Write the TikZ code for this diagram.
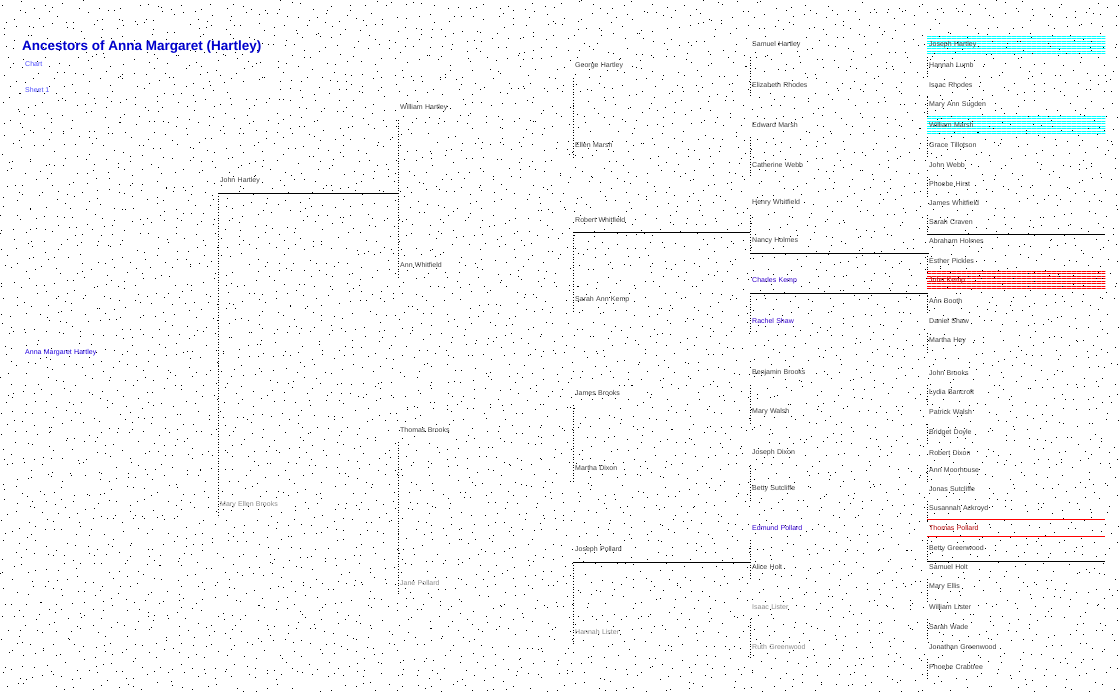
\documentclass[tikz,border=0pt]{standalone}
\usepackage{fontspec}
\setmainfont{Liberation Sans}
\usetikzlibrary{patterns.meta,backgrounds}

\begin{document}
\begin{tikzpicture}[x=1pt,y=-1pt,
  person/.style={anchor=west, inner xsep=2pt, inner ysep=0pt, minimum height=24pt, text width=#1, font=\fontsize{7}{8}\selectfont, text=black!75},
  person/.default=170pt,
  conn/.style={dotted, line width=0.7pt},
  bar/.style={line width=0.9pt},
  hlcyan/.style={pattern={Lines[angle=0,distance=2.5pt,line width=0.9pt]}, pattern color=cyan},
  hlred/.style={pattern={Lines[angle=0,distance=2.5pt,line width=0.9pt]}, pattern color=red}
]
\useasboundingbox (0,0) rectangle (1119,691);
\pgfmathsetseed{7}
\foreach \gx in {0,10,...,1110}
  \foreach \gy in {0,11,...,682}
    \fill ({\gx+rnd*10},{\gy+rnd*11}) rectangle +(1,1);

\node[anchor=west, inner sep=0, font=\fontsize{13.5}{15}\selectfont\bfseries, text=blue!80!black] (title) at (22,47) {Ancestors of Anna Margaret (Hartley)};
\node[anchor=west, inner sep=0, font=\fontsize{7}{8}\selectfont, text=blue!70] (chart) at (25,64) {Chart};
\node[anchor=west, inner sep=0, font=\fontsize{7}{8}\selectfont, text=blue!70] (sheet) at (25,90) {Sheet 1};

\node[person, text=blue!75!violet] (root) at (23,353) {Anna Margaret Hartley};

\node[person=176pt] (b1) at (218,181) {John Hartley};
\node[person=176pt, text=black!45] (b2) at (218,505) {Mary Ellen Brooks};

\node[person=171pt] (c1) at (398,108) {William Hartley};
\node[person=171pt] (c2) at (398,265) {Ann Whitfield};
\node[person=171pt] (c3) at (398,430) {Thomas Brooks};
\node[person=171pt, text=black!45] (c4) at (398,583) {Jane Pollard};

\node[person=173pt] (d1) at (573,66) {George Hartley};
\node[person=173pt] (d2) at (573,145) {Ellen Marsh};
\node[person=173pt] (d3) at (573,220) {Robert Whitfield};
\node[person=173pt] (d4) at (573,300) {Sarah Ann Kemp};
\node[person=173pt] (d5) at (573,393) {James Brooks};
\node[person=173pt] (d6) at (573,468) {Martha Dixon};
\node[person=173pt] (d7) at (573,550) {Joseph Pollard};
\node[person=173pt, text=black!45] (d8) at (573,632) {Hannah Lister};

\foreach \y/\c/\n [count=\i] in {
  45/black!75/Samuel Hartley, 85/black!75/Elizabeth Rhodes,
  125/black!75/Edward Marsh, 165/black!75/Catherine Webb,
  203/black!75/Henry Whitfield, 241/black!75/Nancy Holmes,
  281/blue!60!violet/Charles Kemp, 321/blue!60!violet/Rachel Shaw,
  373/black!75/Benjamin Brooks, 412/black!75/Mary Walsh,
  453/black!75/Joseph Dixon, 489/black!75/Betty Sutcliffe,
  528/blue!60!violet/Edmund Pollard, 567/black!75/Alice Holt,
  607/black!45/Isaac Lister, 647/black!45/Ruth Greenwood}
  \node[person=173pt, text=\c] (e\i) at (750,\y) {\n};

\foreach \y/\c/\n [count=\i] in {
  45/black!75/Joseph Hartley, 65/black!75/Hannah Lumb,
  85/black!75/Isaac Rhodes, 105/black!75/Mary Ann Sugden,
  125/black!75/William Marsh, 145/black!75/Grace Tillotson,
  165/black!75/John Webb, 184/black!75/Phoebe Hirst,
  203/black!75/James Whitfield, 222/black!75/Sarah Craven,
  241/black!75/Abraham Holmes, 261/black!75/Esther Pickles,
  281/red!70!black/John Kemp, 301/black!75/Ann Booth,
  321/black!75/Daniel Shaw, 341/black!75/Martha Hey,
  373/black!75/John Brooks, 393/black!75/Lydia Bancroft,
  412/black!75/Patrick Walsh, 433/black!75/Bridget Doyle,
  453/black!75/Robert Dixon, 470/black!75/Ann Moorhouse,
  489/black!75/Jonas Sutcliffe, 509/black!75/Susannah Ackroyd,
  528/red!70!black/Thomas Pollard, 549/black!75/Betty Greenwood,
  567/black!75/Samuel Holt, 587/black!75/Mary Ellis,
  607/black!75/William Lister, 627/black!75/Sarah Wade,
  647/black!75/Jonathan Greenwood, 667/black!75/Phoebe Crabtree}
  \node[person=174pt, text=\c] (g\i) at (927,\y) {\n};

\begin{pgfonlayer}{background}
\fill[hlcyan] ([yshift=3pt]g1.south west) rectangle ([yshift=-3pt]g1.north east);
\fill[hlcyan] ([yshift=3pt]g5.south west) rectangle ([yshift=-3pt]g5.north east);
\fill[hlred] ([yshift=3pt]g13.south west) rectangle ([yshift=-3pt]g13.north east);
\end{pgfonlayer}
\draw[red, line width=0.8pt] ([yshift=-4pt]g25.north west) -- ([yshift=-4pt]g25.north east);
\draw[red, line width=0.8pt] ([yshift=4pt]g25.south west) -- ([yshift=4pt]g25.south east);

\draw[conn] (b1.south west) -- (b2.south west);
\draw[conn] (c1.south west) -- (c2.south west);
\draw[conn] (c3.south west) -- (c4.south west);
\draw[conn] (d1.south west) -- (d2.south west);
\draw[conn] (d3.south west) -- (d4.south west);
\draw[conn] (d5.south west) -- (d6.south west);
\draw[conn] (d7.south west) -- (d8.south west);
\foreach \i in {1,3,...,15} {
  \pgfmathtruncatemacro\j{\i+1}
  \draw[conn] (e\i.south west) -- (e\j.south west);
}
\foreach \i in {1,3,...,31} {
  \pgfmathtruncatemacro\j{\i+1}
  \draw[conn] (g\i.south west) -- (g\j.south west);
}

\draw[bar] (b1.south west) -- (b1.south east);
\draw[bar] (d3.south west) -- (d3.south east);
\draw[bar] (d7.south west) -- (d7.south east);
\draw[bar] (e6.south west) -- (e6.south east);
\draw[bar] (e7.south west) -- (e7.south east);
\draw[bar] (g10.south west) -- (g10.south east);
\draw[bar] (g26.south west) -- (g26.south east);
\end{tikzpicture}
\end{document}
